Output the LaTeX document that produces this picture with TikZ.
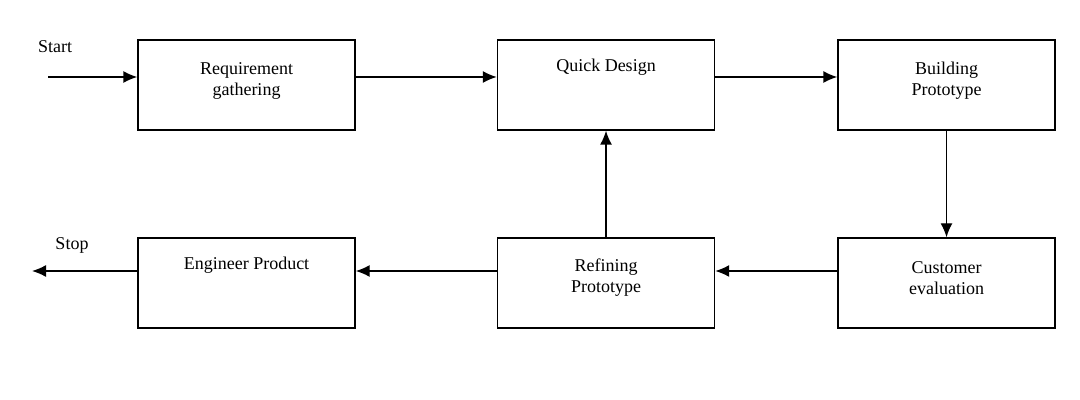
\documentclass[tikz,border=0pt]{standalone}
\usepackage{fontspec}
\setmainfont{Liberation Serif}
\usetikzlibrary{arrows.meta}
\begin{document}
\begin{tikzpicture}[x=0.5pt,y=-0.5pt,
  box/.style={draw,line width=0.7pt,minimum width=108.5pt,minimum height=45pt,inner sep=0pt},
  txt/.style={font=\fontsize{9}{10.5}\selectfont,align=center},
  arr/.style={line width=0.7pt,-{Latex[length=7pt,width=6pt]}}]
\useasboundingbox (0,0) rectangle (1080,400);
\node[box] (req) at (246.5,85) {};
\node[box] (qd) at (606,85) {};
\node[box] (bp) at (946.5,85) {};
\node[box] (ce) at (946.5,283) {};
\node[box] (rp) at (606,283) {};
\node[box] (ep) at (246.5,283) {};
\node[txt] (treq) at (246.5,81) {Requirement\\gathering};
\node[txt] (tqd) at (606,67) {Quick Design};
\node[txt] (tbp) at (946.5,81) {Building\\Prototype};
\node[txt] (tce) at (946.5,278) {Customer\\evaluation};
\node[txt] (trp) at (606,278) {Refining\\Prototype};
\node[txt] (tep) at (246.5,265) {Engineer Product};
\node[txt] (start) at (55,47) {Start};
\node[txt] (stop) at (72,245) {Stop};
\coordinate (s) at (48,77);
\coordinate (e) at (32,271);
\draw[arr] (s) -- (s -| req.west);
\draw[arr] (req.east |- s) -- (qd.west |- s);
\draw[arr] (qd.east |- s) -- (bp.west |- s);
\draw[arr] (bp.south) -- (ce.north);
\draw[arr] (ce.west |- e) -- (rp.east |- e);
\draw[arr] (rp.north) -- (qd.south);
\draw[arr] (rp.west |- e) -- (ep.east |- e);
\draw[arr] (ep.west |- e) -- (e);
\end{tikzpicture}
\end{document}
